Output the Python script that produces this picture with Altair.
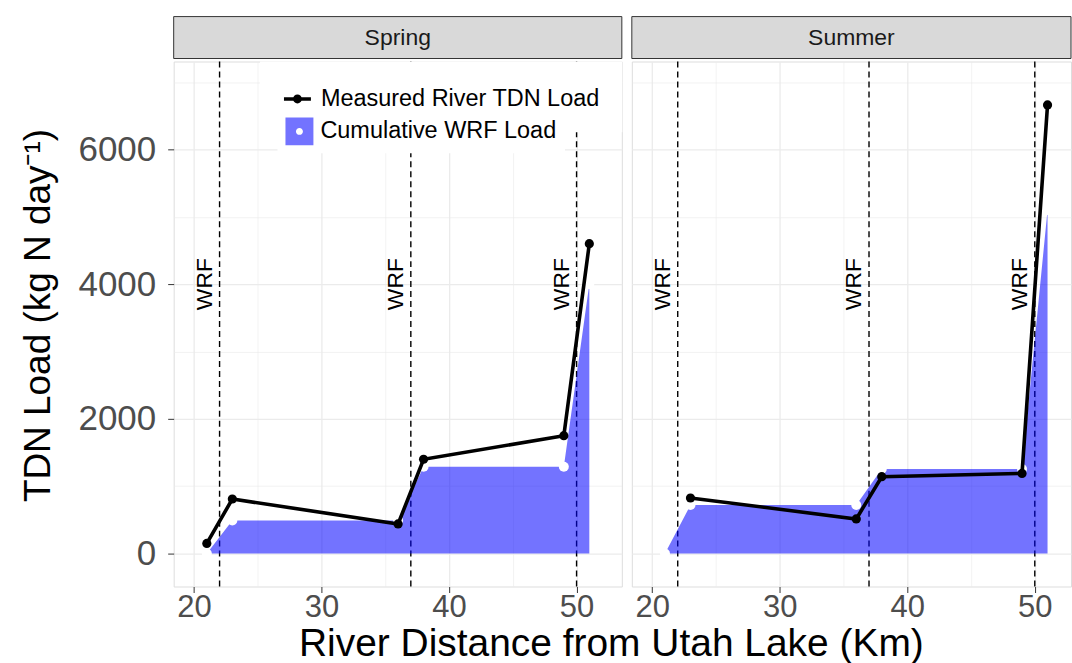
import altair as alt
import pandas as pd

# ---------------- values ----------------
wrf_km = [22, 37, 50]
wrf_label_load = [4000, 4000, 4000]

spring_meas_km = [21, 23, 36, 38, 49, 51]
spring_meas_load = [150, 810, 440, 1400, 1750, 4600]
summer_meas_km = [23, 36, 38, 49, 51]
summer_meas_load = [825, 514, 1141, 1190, 6660]

cum_km = [21, 23, 36, 38, 49, 51]
spring_cum_load = [0, 490, 490, 1290, 1290, 4000]
summer_cum_load = [0, 720, 720, 1255, 1255, 5100]

x_grid = [20, 25, 30, 35, 40, 45, 50]
y_grid = [0, 1000, 2000, 3000, 4000, 5000, 6000, 7000]

MEAS = "Measured River TDN Load"
CUM = "Cumulative WRF Load"
FONT = "Liberation Sans"

SPRING_X = [18.4, 53.55]
SUMMER_X = [18.4, 52.84]
Y_DOM = [-489, 7304]
H = 526
W_SPRING = 449
W_SUMMER = 440

LINE_DOT = "M-1,0L1,0M0.2,0A0.2,0.2 0 1 1 -0.2,0A0.2,0.2 0 1 1 0.2,0Z"
SQUARE_HOLE = "M-1,-1L1,-1L1,1L-1,1Z M0.25,0A0.25,0.25 0 1 0 -0.25,0A0.25,0.25 0 1 0 0.25,0Z"


def major(step):
    return f"datum.value % {step} === 0"


def x_axis(with_title):
    kw = dict(
        values=x_grid,
        labelExpr=f"{major(10)} ? datum.label : ''",
        grid=True,
        gridColor="#EBEBEB",
        gridWidth={"condition": {"test": major(10), "value": 1.3}, "value": 0.6},
        tickOpacity={"condition": {"test": major(10), "value": 1}, "value": 0},
        tickColor="#333333",
        tickSize=6,
        domain=False,
        labelFont=FONT,
        labelFontSize=31,
        labelColor="#4D4D4D",
        labelPadding=0,
    )
    if with_title:
        kw.update(
            title="River Distance from Utah Lake (Km)",
            titleX=438,
            titleY=57,
            titleAlign="center",
            titleBaseline="middle",
            titleFont=FONT,
            titleFontSize=39,
            titleFontWeight="normal",
            titleColor="black",
        )
    else:
        kw.update(title=None)
    return alt.Axis(**kw)


def y_axis(show):
    kw = dict(
        values=y_grid,
        grid=True,
        gridColor="#EBEBEB",
        gridWidth={"condition": {"test": major(2000), "value": 1.3}, "value": 0.6},
        domain=False,
    )
    if show:
        kw.update(
            format="d",
            labelExpr=f"{major(2000)} ? datum.label : ''",
            tickOpacity={"condition": {"test": major(2000), "value": 1}, "value": 0},
            tickColor="#333333",
            tickSize=6,
            labelFont=FONT,
            labelFontSize=35,
            labelColor="#4D4D4D",
            labelPadding=12,
            title="TDN Load (kg N day\u207b\u00b9)",
            titleX=-135,
            titleY=254,
            titleAngle=270,
            titleAlign="center",
            titleBaseline="middle",
            titleFont=FONT,
            titleFontSize=37,
            titleFontWeight="normal",
            titleColor="black",
        )
    else:
        kw.update(labels=False, ticks=False, title=None)
    return alt.Axis(**kw)


def panel(season, meas_km, meas_load, cum_load, width, x_dom, first):
    meas_df = pd.DataFrame({"km": meas_km, "load": meas_load, "kind": MEAS})
    cum_df = pd.DataFrame({"km": cum_km, "load": cum_load, "kind": CUM})
    wrf_df = pd.DataFrame({"km": wrf_km, "load": wrf_label_load, "label": "WRF"})
    strip_df = pd.DataFrame({"season": [season]})

    xs = alt.Scale(domain=x_dom, nice=False, zero=False)
    ys = alt.Scale(domain=Y_DOM, nice=False, zero=False)
    X = alt.X("km:Q", scale=xs, axis=x_axis(first))
    Y = alt.Y("load:Q", scale=ys, axis=y_axis(first))

    rules = alt.Chart(wrf_df).mark_rule(
        color="black", strokeWidth=1.4, strokeDash=[6, 4]
    ).encode(x=X)

    if first:
        fill = alt.Fill(
            "kind:N",
            scale=alt.Scale(domain=[CUM], range=["blue"]),
            legend=alt.Legend(
                orient="none", legendX=104, legendY=48, title=None,
                symbolType=SQUARE_HOLE, symbolSize=784, symbolOpacity=0.55,
                symbolStrokeWidth=0, labelFont=FONT, labelFontSize=23.5,
                labelColor="black", labelOffset=7, labelLimit=500,
                padding=8, fillColor="white", zindex=2,
            ),
        )
        stroke = alt.Stroke(
            "kind:N",
            scale=alt.Scale(domain=[MEAS], range=["black"]),
            legend=alt.Legend(
                orient="none", legendX=86.5, legendY=0, title=None,
                symbolType=LINE_DOT, symbolSize=729, symbolStrokeWidth=3.5,
                symbolStrokeColor="black", symbolFillColor="black",
                labelFont=FONT, labelFontSize=23.5, labelColor="black",
                labelOffset=8, labelLimit=500, padding=22,
                fillColor="white", zindex=1,
            ),
        )
    else:
        fill = alt.value("blue")
        stroke = alt.value("black")

    area = alt.Chart(cum_df).mark_area(opacity=0.55).encode(
        x=X, y=Y, y2=alt.datum(0), fill=fill
    )
    white_pts = alt.Chart(cum_df).mark_point(
        filled=True, color="white", opacity=1, size=100
    ).encode(x=X, y=Y)
    line = alt.Chart(meas_df).mark_line(strokeWidth=3.6).encode(
        x=X, y=Y, stroke=stroke
    )
    black_pts = alt.Chart(meas_df).mark_point(
        filled=True, color="black", opacity=1, size=85
    ).encode(x=X, y=Y)
    labels = alt.Chart(wrf_df).mark_text(
        angle=270, align="center", baseline="bottom", dy=-3,
        fontSize=23, font=FONT, color="black"
    ).encode(x=X, y=Y, text="label:N")

    strip_rect = alt.Chart(strip_df).mark_rect(
        fill="#D9D9D9", stroke="#333333", strokeWidth=1
    ).encode(
        x=alt.value(0), x2=alt.value(width), y=alt.value(-45), y2=alt.value(-3)
    )
    strip_text = alt.Chart(strip_df).mark_text(
        fontSize=23, font=FONT, color="#1A1A1A", baseline="middle", align="center"
    ).encode(x=alt.value(width / 2), y=alt.value(-24), text="season:N")

    return alt.layer(
        rules, area, white_pts, line, black_pts, labels, strip_rect, strip_text
    ).properties(width=width, height=H)


spring = panel("Spring", spring_meas_km, spring_meas_load, spring_cum_load,
               W_SPRING, SPRING_X, True)
summer = panel("Summer", summer_meas_km, summer_meas_load, summer_cum_load,
               W_SUMMER, SUMMER_X, False)

chart = (
    alt.hconcat(spring, summer, spacing=10, bounds="flush")
    .resolve_scale(x="independent", y="independent")
    .properties(padding={"left": 19, "top": 15, "right": 0, "bottom": 0},
                background="white")
    .configure_view(stroke="#333333", strokeWidth=1)
    .configure(font=FONT)
)

chart.save("out.html", embed_options={"renderer": "svg", "actions": False})
